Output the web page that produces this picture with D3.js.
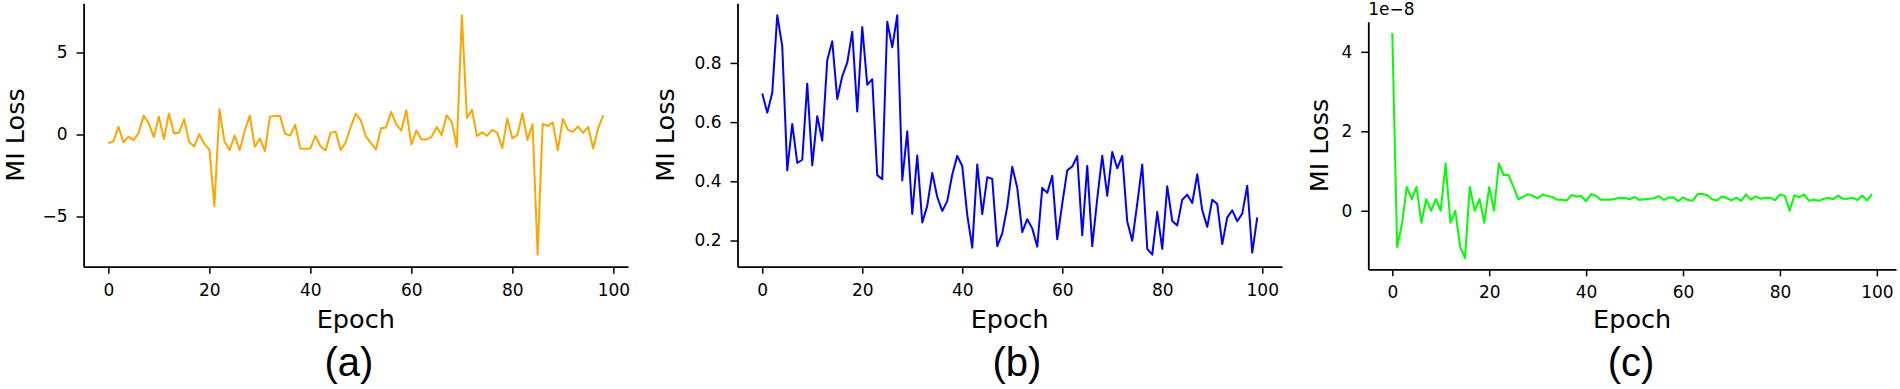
<!DOCTYPE html>
<html>
<head>
<meta charset="utf-8">
<script src="https://cdn.jsdelivr.net/npm/d3@7"></script>
<style>
  body { margin: 0; background: #fff; }
  svg { display: block; }
</style>
</head>
<body>
<div id="chart"></div>
<script>
// MI loss per epoch
const lossA = [-0.53, -0.42, 0.47, -0.47, -0.14, -0.34, 0.10, 1.15, 0.69, -0.16,
  1.09, -0.28, 1.28, 0.06, 0.12, 0.93, -0.45, -0.73, 0.02, -0.57,
  -0.91, -4.37, 1.54, -0.43, -0.95, -0.06, -0.95, 0.22, 1.15, -0.75,
  -0.24, -1.01, 1.09, 1.13, 1.13, 0.04, -0.06, 0.59, -0.85, -0.87,
  -0.85, -0.08, -0.71, -0.97, 0.10, 0.18, -0.95, -0.49, 0.47, 1.28,
  0.85, -0.12, -0.53, -0.91, 0.38, 0.43, 1.38, 0.63, 0.24, 1.48,
  -0.61, 0.24, -0.30, -0.30, -0.14, 0.45, -0.02, 1.17, 0.77, -0.75,
  7.27, 1.01, 1.50, -0.10, 0.14, -0.08, 0.28, 0.12, -0.83, 0.97,
  -0.24, -0.04, 1.30, -0.34, 0.63, -7.33, 0.65, 0.53, 0.73, -0.97,
  0.95, 0.28, 0.16, 0.49, 0.10, 0.47, -0.85, 0.40, 1.17];

const lossB = [0.697, 0.632, 0.699, 0.961, 0.857, 0.437, 0.594, 0.462, 0.473, 0.730,
  0.454, 0.620, 0.537, 0.809, 0.873, 0.678, 0.755, 0.801, 0.905, 0.636,
  0.921, 0.726, 0.745, 0.421, 0.407, 0.939, 0.853, 0.961, 0.403, 0.569,
  0.290, 0.487, 0.261, 0.317, 0.428, 0.347, 0.300, 0.333, 0.423, 0.486,
  0.452, 0.286, 0.176, 0.457, 0.289, 0.414, 0.408, 0.181, 0.224, 0.314,
  0.449, 0.378, 0.228, 0.272, 0.241, 0.179, 0.378, 0.361, 0.419, 0.204,
  0.325, 0.437, 0.450, 0.485, 0.218, 0.452, 0.181, 0.342, 0.486, 0.351,
  0.499, 0.444, 0.486, 0.264, 0.199, 0.325, 0.457, 0.172, 0.152, 0.296,
  0.172, 0.383, 0.266, 0.251, 0.338, 0.355, 0.327, 0.424, 0.302, 0.246,
  0.338, 0.323, 0.188, 0.278, 0.302, 0.265, 0.291, 0.385, 0.159, 0.278];

// panel (c) in units of 1e-8
const lossC = [4.475, -0.91, -0.33, 0.60, 0.29, 0.60, -0.30, 0.29, 0.00, 0.29,
  0.00, 1.19, -0.30, 0.00, -0.90, -1.19, 0.60, 0.00, 0.29, -0.30,
  0.60, 0.00, 1.19, 0.90, 0.90, 0.60, 0.29, 0.35, 0.42, 0.375,
  0.31, 0.41, 0.375, 0.35, 0.28, 0.275, 0.26, 0.40, 0.36, 0.37,
  0.24, 0.42, 0.38, 0.28, 0.275, 0.275, 0.30, 0.33, 0.32, 0.29,
  0.35, 0.27, 0.29, 0.30, 0.31, 0.37, 0.27, 0.33, 0.34, 0.24,
  0.34, 0.27, 0.25, 0.42, 0.42, 0.39, 0.29, 0.26, 0.36, 0.32,
  0.26, 0.33, 0.25, 0.41, 0.28, 0.36, 0.30, 0.33, 0.33, 0.27,
  0.41, 0.375, 0.00, 0.39, 0.34, 0.41, 0.25, 0.275, 0.25, 0.30,
  0.32, 0.29, 0.38, 0.30, 0.30, 0.33, 0.27, 0.38, 0.26, 0.42].map(v => v * 1e-8);

const xTicks = [0, 20, 40, 60, 80, 100];
const yTicksA = [-5, 0, 5];
const yTicksB = [0.2, 0.4, 0.6, 0.8];
const yTicksC = [0, 2e-8, 4e-8];
const panelNames = ["(a)", "(b)", "(c)"];

const width = 1900;
const height = 389;

const svg = d3.select("#chart").append("svg")
    .attr("width", width)
    .attr("height", height)
    .attr("viewBox", [0, 0, width, height]);

const tickFont = "DejaVu Sans, sans-serif";

// matplotlib style 5% margins around the data
function padded(ext) {
    const m = (ext[1] - ext[0]) * 0.05;
    return [ext[0] - m, ext[1] + m];
}

function drawPanel(p) {
    const x = d3.scaleLinear()
        .domain(padded([0, p.data.length - 1]))
        .range([p.left, p.right]);
    const y = d3.scaleLinear()
        .domain(padded(d3.extent(p.data)))
        .range([p.bottom, p.top]);

    const g = svg.append("g");

    // bottom axis
    const xAxis = g.append("g")
        .attr("transform", `translate(0,${p.bottom})`)
        .call(d3.axisBottom(x).tickValues(xTicks).tickSize(7).tickPadding(10).tickSizeOuter(0));

    // left axis
    const yAxis = g.append("g")
        .attr("transform", `translate(${p.left},0)`)
        .call(d3.axisLeft(y).tickValues(p.yTicks).tickFormat(p.fmt).tickSize(7).tickPadding(9).tickSizeOuter(0));

    [xAxis, yAxis].forEach(a => {
        a.select(".domain").attr("stroke", "#000").attr("stroke-width", 1.8);
        a.selectAll(".tick line").attr("stroke", "#000").attr("stroke-width", 1.5);
        a.selectAll(".tick text")
            .attr("fill", "#000")
            .style("font-family", tickFont)
            .style("font-size", "17px");
    });

    // the line
    const line = d3.line()
        .x((d, i) => x(i))
        .y(d => y(d));
    g.append("path")
        .datum(p.data)
        .attr("fill", "none")
        .attr("stroke", p.color)
        .attr("stroke-width", 2)
        .attr("stroke-linejoin", "round")
        .attr("d", line);

    // axis labels
    g.append("text")
        .attr("x", (p.left + p.right) / 2)
        .attr("y", 327.5)
        .attr("text-anchor", "middle")
        .style("font-family", tickFont)
        .style("font-size", "25.5px")
        .text("Epoch");

    g.append("text")
        .attr("transform", `translate(${p.ylabelX},${(p.top + p.bottom) / 2}) rotate(-90)`)
        .attr("text-anchor", "middle")
        .style("font-family", tickFont)
        .style("font-size", "25.5px")
        .text("MI Loss");

    if (p.offsetText) {
        g.append("text")
            .attr("x", p.left)
            .attr("y", 15)
            .style("font-family", tickFont)
            .style("font-size", "17px")
            .text(p.offsetText);
    }

    // subfigure caption
    g.append("text")
        .attr("x", p.captionX)
        .attr("y", 376)
        .attr("text-anchor", "middle")
        .style("font-family", "Liberation Sans, Arial, sans-serif")
        .style("font-size", "40px")
        .text(p.name);
}

drawPanel({
    data: lossA, color: "#FFA500", yTicks: yTicksA, fmt: d3.format("d"),
    left: 83.6, right: 628, top: 3.3, bottom: 266.7,
    ylabelX: 24, captionX: 349, name: panelNames[0]
});

drawPanel({
    data: lossB, color: "#0000FF", yTicks: yTicksB, fmt: d3.format(".1f"),
    left: 737.5, right: 1282, top: 3.3, bottom: 266.7,
    ylabelX: 674, captionX: 1017, name: panelNames[1]
});

drawPanel({
    data: lossC, color: "#00FF00", yTicks: yTicksC, fmt: d => d3.format("d")(Math.round(d / 1e-8)),
    left: 1368.3, right: 1896, top: 21.7, bottom: 269.3,
    ylabelX: 1327.5, captionX: 1631, name: panelNames[2], offsetText: "1e\u22128"
});
</script>
</body>
</html>
